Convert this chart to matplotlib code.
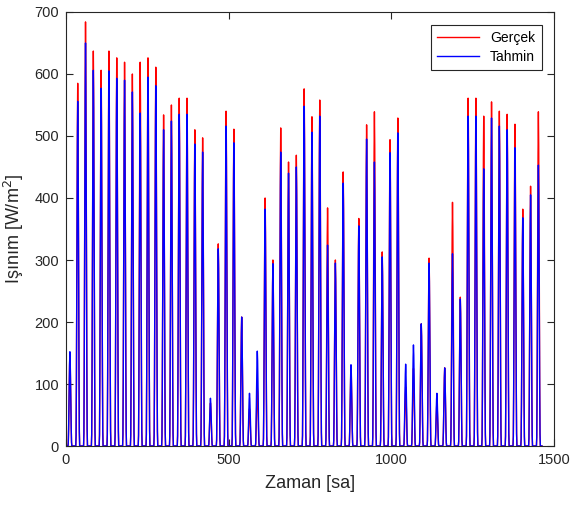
import numpy as np
import matplotlib.pyplot as plt

plt.rcParams['font.family'] = ['Liberation Sans', 'DejaVu Sans']

# daily peak irradiance [W/m^2], one value per day (61 days)
gercek_peak = [148, 585, 684, 637, 606, 637, 626, 619, 600, 619,
               626, 611, 534, 550, 561, 561, 510, 497, 69, 326,
               540, 511, 208, 60, 95, 400, 300, 513, 458, 469,
               576, 531, 558, 384, 300, 442, 125, 367, 518, 539,
               313, 494, 529, 95, 125, 197, 303, 70, 126, 393,
               240, 561, 561, 532, 555, 540, 535, 519, 382, 419, 539]
tahmin_peak = [152, 556, 650, 606, 577, 605, 593, 590, 571, 537,
               595, 581, 510, 524, 535, 535, 487, 474, 77, 318,
               516, 489, 208, 85, 153, 382, 294, 474, 440, 450,
               548, 506, 532, 324, 295, 424, 131, 355, 495, 458,
               305, 473, 505, 132, 163, 197, 295, 85, 126, 310,
               237, 532, 532, 447, 529, 516, 510, 481, 368, 405, 453]

# hourly share of the daily peak (hour 0..23)
profile = [0, 0, 0, 0, 0, 0, 0, 0.03, 0.18, 0.42, 0.68, 0.88,
           1.0, 0.9, 0.7, 0.45, 0.2, 0.04, 0, 0, 0, 0, 0, 0]

gercek = np.concatenate([p * np.array(profile) for p in gercek_peak])
tahmin = np.concatenate([p * np.array(profile) for p in tahmin_peak])
saat = np.arange(len(gercek))

fig = plt.figure(figsize=(5.71, 5.07), dpi=100)
ax = fig.add_axes([66 / 571, 61 / 507, 488 / 571, 434 / 507])

ax.plot(saat, gercek, color='red', lw=1.0, label='Gerçek')
ax.plot(saat, tahmin, color='blue', lw=1.0, label='Tahmin')

ax.set_xlim(0, 1500)
ax.set_ylim(0, 700)
ax.set_xticks([0, 500, 1000, 1500])
ax.set_yticks(range(0, 701, 100))

gray = '#262626'
for s in ax.spines.values():
    s.set_color(gray)
    s.set_linewidth(0.8)
ax.tick_params(direction='in', length=5, width=0.8, top=True, right=True,
               colors=gray, labelsize=10.5, pad=5)

ax.set_xlabel('Zaman [sa]', fontsize=13, color=gray, labelpad=6)
ax.set_ylabel('Işınım [W/m$^2$]', fontsize=13, color=gray, labelpad=6)

leg = ax.legend(loc='upper right', fontsize=10, handlelength=3.0,
                fancybox=False, framealpha=1, borderaxespad=0.9,
                edgecolor=gray, borderpad=0.45, labelspacing=0.35)
leg.get_frame().set_linewidth(0.8)

plt.savefig('out.png', dpi=100)
